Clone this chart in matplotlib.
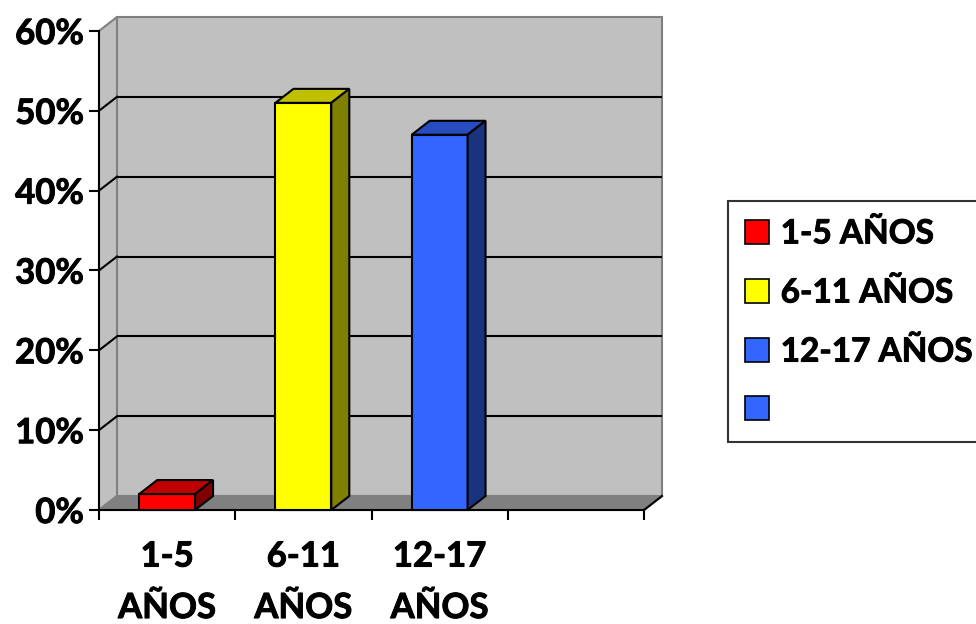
import matplotlib
matplotlib.use("Agg")
import matplotlib.pyplot as plt
import matplotlib.patheffects as pe
from matplotlib.patches import Polygon, Patch

# ---- data -------------------------------------------------------------
categories = ["1-5 AÑOS", "6-11 AÑOS", "12-17 AÑOS", ""]
axis_labels = ["1-5\nAÑOS", "6-11\nAÑOS", "12-17\nAÑOS", ""]
values = [2, 51, 47]                      # percent
front_colors = ["#FF0000", "#FFFF00", "#3366FF", "#3366FF"]
top_colors = ["#C00000", "#C0C000", "#264CBF"]
side_colors = ["#800000", "#808000", "#19337F"]
y_ticks = [0, 10, 20, 30, 40, 50, 60]
y_tick_labels = ["0%", "10%", "20%", "30%", "40%", "50%", "60%"]

# ---- style ------------------------------------------------------------
plt.rcParams["font.family"] = ["Lato", "DejaVu Sans"]
WEIGHT = "bold"
plt.rcParams["font.weight"] = WEIGHT
FS = 25
LEG_FS = 24
HEAVY = [pe.withStroke(linewidth=0.7, foreground="black")]
WALL = "#C0C0C0"
FLOOR = "#808080"
EDGE_GRAY = "#808080"
LW = 1.5
DX, DY = 0.132, 1.75          # oblique depth of the 3-D box (data units)
BAR_W = 0.41
N = len(categories)
YMAX = y_ticks[-1]

fig = plt.figure(figsize=(9.76, 6.24), dpi=100)
W, H = 976, 624
left, right, bottom, top = 99, 662, 510, 17
ax = fig.add_axes([left / W, 1 - bottom / H, (right - left) / W, (bottom - top) / H])
ax.set_xlim(0, N + DX)
ax.set_ylim(0, YMAX + DY)
ax.set_facecolor("none")
for s in ax.spines.values():
    s.set_visible(False)

def poly(pts, fc, ec, z, lw=LW):
    ax.add_patch(Polygon(pts, closed=True, facecolor=fc, edgecolor=ec,
                         linewidth=lw, zorder=z, joinstyle="miter", clip_on=False))

# walls and floor
poly([(DX, DY), (N + DX, DY), (N + DX, YMAX + DY), (DX, YMAX + DY)], WALL, EDGE_GRAY, 1)
poly([(0, 0), (DX, DY), (DX, YMAX + DY), (0, YMAX)], WALL, EDGE_GRAY, 1)
poly([(0, 0), (N, 0), (N + DX, DY), (DX, DY)], FLOOR, EDGE_GRAY, 1)

# gridlines on back and side walls
for v in y_ticks[1:-1]:
    ax.plot([DX, N + DX], [v + DY, v + DY], color="black", lw=LW, zorder=2,
            solid_capstyle="butt", clip_on=False)
    ax.plot([0, DX], [v, v + DY], color="black", lw=LW, zorder=2, clip_on=False)

# front axis lines
ax.plot([0, 0], [0, YMAX], color="black", lw=LW, zorder=2, clip_on=False)
ax.plot([0, N], [0, 0], color="black", lw=LW, zorder=2, clip_on=False)
ax.plot([N, N + DX], [0, DY], color="black", lw=LW, zorder=2, clip_on=False)

# 3-D columns
for i, v in enumerate(values):
    x0 = i + 0.5 - BAR_W / 2
    x1 = x0 + BAR_W
    poly([(x0, 0), (x1, 0), (x1, v), (x0, v)], front_colors[i], "black", 4)
    poly([(x0, v), (x1, v), (x1 + DX, v + DY), (x0 + DX, v + DY)], top_colors[i], "black", 4)
    poly([(x1, 0), (x1 + DX, DY), (x1 + DX, v + DY), (x1, v)], side_colors[i], "black", 4)

# ticks and labels
ax.set_yticks(y_ticks)
ax.set_yticklabels(y_tick_labels, fontsize=FS, fontweight=WEIGHT)
ax.tick_params(axis="y", length=7.2, width=LW, pad=3.6, color="black")
ax.set_xticks(range(N + 1))
ax.set_xticklabels([])
ax.tick_params(axis="x", which="major", length=7.5, width=LW, color="black")
ax.set_xticks([i + 0.5 for i in range(N)], minor=True)
ax.set_xticklabels(axis_labels, minor=True, fontsize=FS, fontweight=WEIGHT,
                   linespacing=1.75)
ax.tick_params(axis="x", which="minor", length=0, pad=22)
for t in ax.get_yticklabels() + ax.get_xticklabels(minor=True):
    t.set_path_effects(HEAVY)

# legend
handles = [Patch(facecolor=c, edgecolor="black", linewidth=1.2) for c in front_colors]
leg = fig.legend(handles, [c if c else " " for c in categories],
                 loc="upper left", bbox_to_anchor=(728 / W, 1 - 201 / H),
                 borderaxespad=0, frameon=True, fancybox=False,
                 prop={"size": LEG_FS, "weight": WEIGHT, "family": ["Lato", "DejaVu Sans"]},
                 handlelength=0.72, handleheight=0.72, handletextpad=0.34,
                 borderpad=0.52, labelspacing=0.87)
leg.get_frame().set_edgecolor("black")
leg.get_frame().set_linewidth(LW)
for t in leg.get_texts():
    t.set_path_effects(HEAVY)

fig.savefig("out.png", dpi=100, facecolor="white")
